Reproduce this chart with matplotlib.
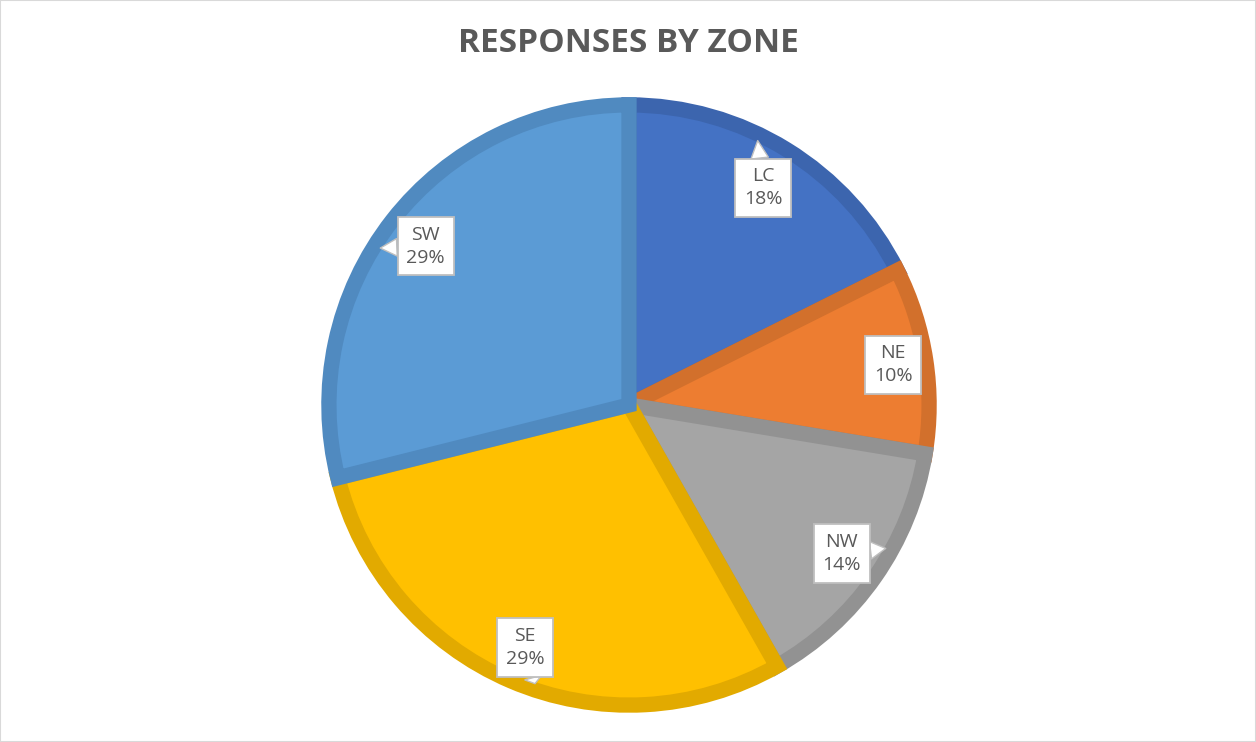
import numpy as np
import matplotlib
matplotlib.use("Agg")
from matplotlib import pyplot as plt
from matplotlib.patches import Rectangle

zones = ["LC", "NE", "NW", "SE", "SW"]
shares = [17.6, 10.0, 14.2, 29.3, 28.9]
colors = ["#4472C4", "#ED7D31", "#A5A5A5", "#FFC000", "#5B9BD5"]
edge_colors = ["#3C65AE", "#D2702C", "#929292", "#E2AA00", "#508AC0"]

plt.rcParams['font.family'] = ['Open Sans', 'DejaVu Sans']

fig = plt.figure(figsize=(12.56, 7.42), dpi=100)
fig.patches.append(Rectangle((0, 0), 1, 1, transform=fig.transFigure,
                             fill=False, edgecolor="#D9D9D9", linewidth=1.5))

# pie axes: centre ~ (629, 405) px, radius ~307 px
cx, cy, r = 629, 405, 307
ax = fig.add_axes([(cx - r) / 1256, (742 - cy - r) / 742, 2 * r / 1256, 2 * r / 742])

wedges, _ = ax.pie(shares, colors=colors, startangle=90, counterclock=False,
                   radius=1, wedgeprops=dict(linewidth=11))
for w, ec in zip(wedges, edge_colors):
    w.set_edgecolor(ec)
    w.set_clip_path(w)  # keep the stroke inside the slice

# label distance from centre and callout tip offset (radians) per slice
label_dist = [0.85, 0.89, 0.865, 0.88, 0.86]
tip_offsets = [0.10, 0.07, 0.10, 0.08, 0.10]

total = sum(shares)
for w, name, val, d, off in zip(wedges, zones, shares, label_dist, tip_offsets):
    mid = np.deg2rad((w.theta1 + w.theta2) / 2)
    lx, ly = d * np.cos(mid), d * np.sin(mid)
    px, py = 0.98 * np.cos(mid + off), 0.98 * np.sin(mid + off)
    ax.annotate(f"{name}\n{round(val / total * 100):.0f}%", xy=(px, py), xytext=(lx, ly),
                ha="center", va="center", fontsize=14, color="#595959",
                linespacing=1.35,
                bbox=dict(boxstyle="square,pad=0.45", fc="white", ec="#BFBFBF", lw=1.3),
                arrowprops=dict(arrowstyle="wedge,tail_width=0.9", fc="white",
                                ec="#BFBFBF", lw=1.0, shrinkA=0, shrinkB=0))

lim = 1.023
ax.set_xlim(-lim, lim)
ax.set_ylim(-lim, lim)
ax.set_aspect("equal")
ax.axis("off")

fig.text(628 / 1256, 1 - 44 / 742, "RESPONSES BY ZONE", ha="center", va="center",
         fontsize=24, fontweight="bold", color="#595959")

plt.savefig("out.png", dpi=100)
plt.close()
